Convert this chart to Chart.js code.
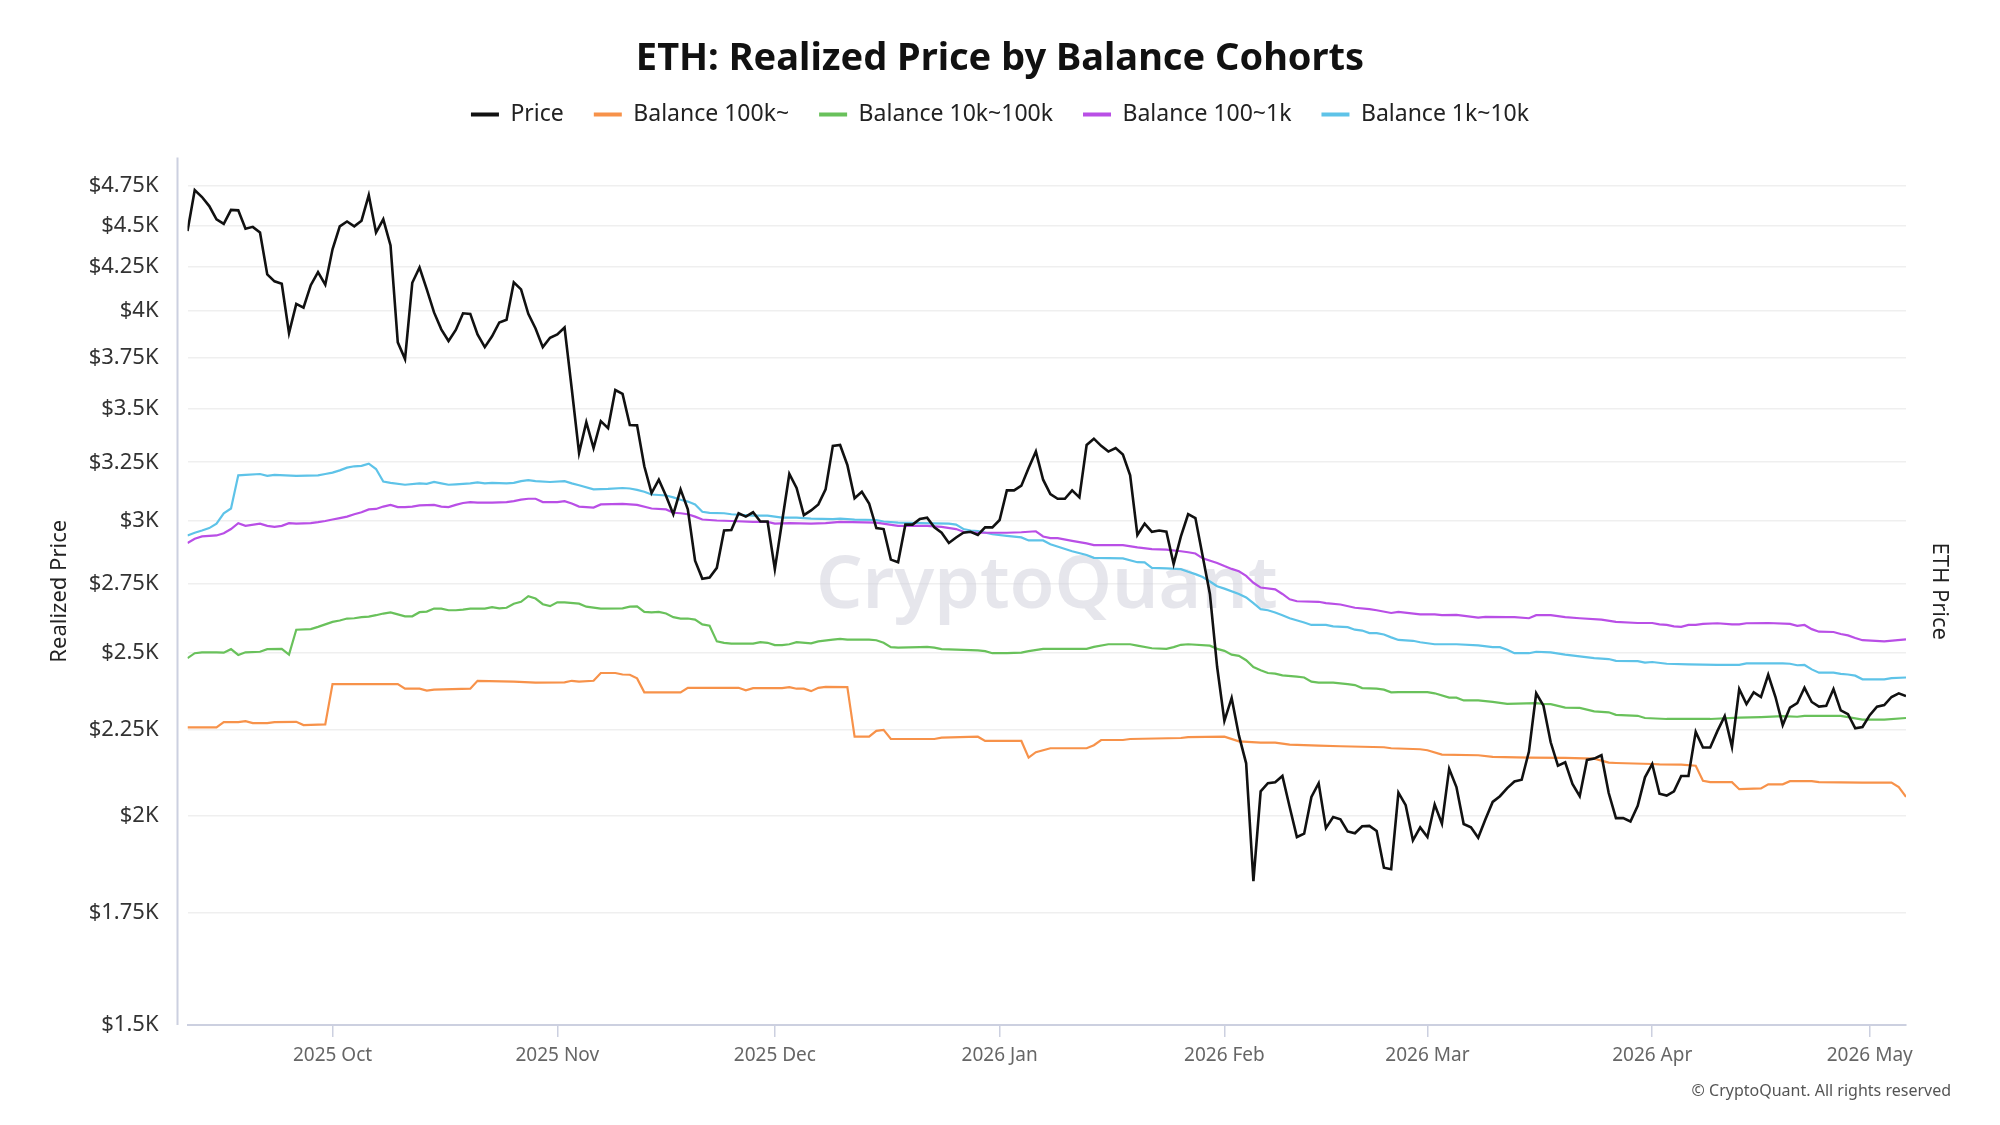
<!DOCTYPE html>
<html>
<head>
<meta charset="utf-8">
<script src="https://cdn.jsdelivr.net/npm/chart.js@4.4.1/dist/chart.umd.min.js"></script>
<style>
html,body{margin:0;padding:0;background:#ffffff;}
canvas{display:block;}
</style>
</head>
<body>
<canvas id="chart" width="2000" height="1125"></canvas>
<script>
// Daily data, day 0 = 2025-09-11, last day 237 = 2026-05-06
const priceVals = [
 4465,4724,4679,4621,4538,4509,4597,4594,4480,4491,
 4456,4207,4167,4153,3881,4040,4019,4145,4220,4148,
 4355,4494,4524,4494,4529,4691,4456,4538,4378,3832,
 3745,4159,4247,4121,3993,3901,3839,3898,3988,3985,
 3874,3807,3864,3938,3953,4161,4121,3985,3906,3807,
 3856,3874,3911,3593,3292,3434,3314,3439,3406,3589,
 3570,3421,3419,3232,3115,3173,3103,3026,3131,3046,
 2839,2769,2774,2811,2959,2961,3030,3016,3034,2996,
 2996,2806,2996,3198,3137,3022,3042,3067,3131,3324,
 3328,3238,3093,3121,3071,2969,2965,2843,2833,2983,
 2983,3006,3012,2972,2950,2909,2931,2950,2954,2941,
 2972,2972,3002,3127,3127,3147,3224,3298,3173,3111,
 3091,3091,3127,3097,3328,3357,3324,3298,3314,3285,
 3192,2941,2987,2954,2959,2954,2826,2935,3026,3010,
 2857,2712,2453,2278,2351,2233,2149,1828,2068,2091,
 2094,2112,2024,1942,1951,2052,2091,1966,1996,1990,
 1957,1952,1971,1972,1958,1862,1858,2064,2029,1933,
 1968,1942,2031,1978,2133,2080,1977,1968,1940,1990,
 2038,2054,2077,2096,2101,2184,2366,2326,2212,2142,
 2152,2089,2054,2159,2163,2173,2063,1993,1993,1984,
 2027,2108,2147,2061,2056,2068,2112,2112,2244,2196,
 2196,2247,2293,2198,2380,2331,2369,2354,2427,2354,
 2265,2320,2334,2384,2338,2323,2326,2380,2311,2299,
 2255,2259,2296,2323,2328,2354,2366,2357
];

// [day, realized price]
const bal100k = [
 [0,2258],[4,2258],[5,2274],[7,2274],[8,2277],[9,2271],[11,2271],[12,2274],[15,2275],[16,2265],
 [19,2267],[20,2396],[29,2396],[30,2381],[32,2381],[33,2375],[34,2378],[39,2381],[40,2407],[45,2404],
 [48,2401],[52,2402],[53,2407],[54,2404],[56,2407],[57,2433],[59,2433],[60,2428],[61,2427],[62,2415],
 [63,2369],[68,2369],[69,2384],[76,2384],[77,2376],[78,2383],[82,2383],[83,2386],[84,2381],[85,2381],
 [86,2373],[87,2384],[88,2387],[91,2386],[92,2229],[94,2229],[95,2247],[96,2250],[97,2222],[103,2222],
 [104,2226],[109,2229],[110,2216],[115,2216],[116,2166],[117,2182],[119,2194],[124,2194],[125,2203],[126,2219],
 [129,2219],[130,2222],[137,2225],[138,2228],[143,2229],[145,2215],[148,2211],[150,2211],[152,2205],[156,2202],
 [159,2200],[165,2197],[166,2194],[170,2191],[171,2188],[173,2175],[178,2173],[180,2168],[185,2166],[190,2165],
 [194,2163],[195,2157],[196,2151],[197,2150],[202,2147],[203,2146],[206,2145],[208,2142],[209,2098],[210,2094],
 [213,2094],[214,2074],[217,2076],[218,2088],[220,2088],[221,2097],[224,2097],[225,2094],[231,2093],[235,2093],
 [236,2080],[237,2052]
];

const bal10k100k = [
 [0,2483],[1,2500],[2,2503],[4,2503],[5,2502],[6,2514],[7,2494],[8,2503],[10,2505],[11,2514],
 [13,2515],[14,2495],[15,2582],[17,2584],[18,2592],[19,2601],[20,2610],[21,2615],[22,2622],[23,2623],
 [24,2627],[25,2629],[26,2634],[27,2640],[28,2644],[29,2637],[30,2630],[31,2630],[32,2645],[33,2647],
 [34,2658],[35,2658],[36,2652],[37,2652],[38,2654],[39,2658],[41,2658],[42,2663],[43,2659],[44,2661],
 [45,2676],[46,2683],[47,2704],[48,2695],[49,2674],[50,2667],[51,2681],[52,2681],[54,2676],[55,2665],
 [57,2658],[60,2659],[61,2665],[62,2666],[63,2646],[64,2644],[65,2646],[66,2640],[67,2627],[68,2622],
 [69,2622],[70,2618],[71,2601],[72,2596],[73,2541],[74,2536],[75,2533],[78,2533],[79,2538],[80,2536],
 [81,2528],[82,2528],[83,2531],[84,2538],[86,2534],[87,2541],[89,2547],[90,2550],[91,2547],[94,2547],
 [95,2545],[96,2536],[97,2521],[98,2519],[101,2521],[102,2522],[103,2519],[104,2514],[106,2512],[109,2510],
 [110,2507],[111,2500],[113,2500],[115,2502],[116,2507],[118,2515],[124,2515],[125,2522],[127,2531],[130,2531],
 [131,2526],[133,2517],[135,2515],[136,2521],[137,2529],[138,2531],[141,2526],[142,2515],[143,2508],[144,2495],
 [145,2491],[146,2476],[147,2453],[148,2442],[149,2433],[150,2431],[151,2425],[153,2421],[154,2418],[155,2404],
 [156,2401],[158,2401],[160,2396],[161,2393],[162,2383],[164,2381],[165,2378],[166,2369],[167,2370],[171,2370],
 [172,2366],[174,2352],[175,2352],[176,2343],[178,2343],[180,2338],[182,2332],[186,2334],[187,2332],[188,2331],
 [190,2320],[192,2319],[194,2308],[196,2305],[197,2297],[200,2294],[201,2287],[204,2284],[210,2284],[214,2288],
 [217,2290],[220,2293],[222,2291],[223,2294],[228,2294],[229,2290],[231,2282],[234,2282],[237,2287]
];

const bal100to1k = [
 [0,2909],[1,2926],[2,2935],[4,2939],[5,2948],[6,2965],[7,2989],[8,2978],[10,2987],[11,2978],
 [12,2974],[13,2978],[14,2989],[15,2987],[17,2989],[18,2993],[19,2998],[20,3004],[21,3010],[22,3016],
 [23,3026],[24,3034],[25,3046],[26,3048],[27,3058],[28,3065],[29,3056],[30,3056],[31,3058],[32,3063],
 [34,3065],[35,3058],[36,3056],[37,3065],[38,3073],[39,3077],[40,3075],[42,3075],[44,3077],[45,3081],
 [46,3087],[47,3091],[48,3091],[49,3077],[51,3077],[52,3081],[53,3071],[54,3058],[56,3054],[57,3067],
 [60,3069],[62,3065],[64,3050],[66,3046],[67,3032],[68,3030],[69,3026],[70,3016],[71,3004],[73,3000],
 [75,2998],[78,2994],[80,2994],[81,2987],[83,2989],[86,2987],[88,2989],[90,2994],[95,2991],[98,2978],
 [102,2978],[104,2974],[106,2965],[107,2954],[109,2950],[113,2950],[115,2952],[117,2956],[118,2935],[119,2928],
 [120,2928],[122,2917],[124,2907],[125,2900],[129,2900],[131,2891],[133,2884],[135,2882],[137,2876],[138,2872],
 [139,2867],[140,2848],[142,2830],[143,2818],[144,2807],[145,2798],[146,2780],[147,2754],[148,2736],[150,2729],
 [151,2712],[152,2692],[153,2685],[156,2683],[157,2678],[159,2673],[161,2661],[163,2656],[164,2652],[166,2642],
 [167,2646],[170,2637],[172,2637],[173,2634],[175,2635],[178,2625],[179,2628],[182,2627],[183,2627],[185,2623],
 [186,2634],[188,2634],[190,2627],[192,2623],[195,2618],[197,2610],[200,2606],[202,2606],[203,2601],[204,2599],
 [205,2594],[206,2592],[207,2599],[208,2599],[209,2603],[211,2605],[213,2601],[214,2601],[215,2605],[218,2606],
 [221,2603],[222,2596],[223,2599],[224,2584],[225,2575],[227,2574],[228,2567],[229,2562],[230,2553],[231,2545],
 [234,2541],[237,2548]
];

const bal1kto10k = [
 [0,2939],[1,2950],[2,2959],[3,2969],[4,2987],[5,3030],[6,3050],[7,3192],[8,3194],[10,3198],
 [11,3190],[12,3194],[15,3190],[18,3192],[19,3198],[20,3204],[21,3214],[22,3226],[23,3232],[24,3234],
 [25,3244],[26,3220],[27,3165],[28,3159],[30,3151],[32,3157],[33,3155],[34,3163],[35,3157],[36,3151],
 [37,3153],[39,3157],[40,3161],[41,3157],[42,3159],[44,3157],[45,3159],[46,3167],[47,3171],[48,3167],
 [50,3163],[52,3167],[53,3157],[54,3149],[56,3131],[58,3133],[60,3137],[61,3135],[62,3129],[63,3121],
 [64,3109],[66,3105],[67,3097],[68,3087],[69,3079],[70,3067],[71,3036],[72,3032],[74,3030],[75,3026],
 [78,3020],[80,3020],[82,3012],[84,3012],[86,3008],[89,3006],[90,3008],[92,3004],[95,3002],[96,2996],
 [98,2991],[101,2989],[105,2987],[106,2983],[107,2965],[108,2959],[109,2957],[111,2944],[113,2937],[115,2931],
 [116,2919],[118,2919],[119,2904],[122,2876],[124,2861],[125,2850],[129,2848],[131,2833],[132,2832],[133,2811],
 [135,2809],[137,2806],[138,2796],[139,2787],[140,2776],[141,2759],[142,2741],[143,2732],[145,2712],[146,2699],
 [147,2678],[148,2656],[149,2652],[150,2644],[151,2634],[152,2623],[154,2608],[155,2599],[157,2599],[158,2594],
 [160,2591],[161,2582],[162,2579],[163,2570],[164,2570],[165,2565],[166,2555],[167,2546],[169,2543],[170,2538],
 [172,2531],[175,2531],[178,2527],[180,2521],[181,2521],[182,2512],[183,2500],[185,2500],[186,2505],[188,2503],
 [190,2495],[194,2483],[196,2480],[197,2474],[200,2473],[201,2468],[202,2470],[204,2464],[207,2462],[211,2460],
 [214,2460],[215,2465],[217,2465],[220,2465],[221,2464],[222,2459],[223,2460],[224,2445],[225,2434],[227,2434],
 [228,2430],[229,2428],[230,2424],[231,2412],[234,2412],[235,2416],[237,2418]
];

const seriesNames = ['Price','Balance 100k~','Balance 10k~100k','Balance 100~1k','Balance 1k~10k'];
const monthTickDays = [20,51,81,112,143,171,202,232];
const monthTickLabels = ['2025 Oct','2025 Nov','2025 Dec','2026 Jan','2026 Feb','2026 Mar','2026 Apr','2026 May'];
const yTickVals = [1500,1750,2000,2250,2500,2750,3000,3250,3500,3750,4000,4250,4500,4750];
const lastDay = 237;
const yMin = 1500, yMax = 4940;

// ---------- styling ----------
const FONT = '"Noto Sans", "Open Sans", sans-serif';
const COLORS = ['#111111','#F7924A','#69C15B','#B94FE6','#5EC3E8'];
const AXIS_LINE = '#ccd0e0';

const toPts = arr => arr.map(p => ({x: p[0], y: p[1]}));
const seriesData = [
  priceVals.map((v, i) => ({x: i, y: v})),
  toPts(bal100k), toPts(bal10k100k), toPts(bal100to1k), toPts(bal1kto10k)
];

const datasets = seriesNames.map((name, k) => ({
  label: name,
  data: seriesData[k],
  borderColor: COLORS[k],
  backgroundColor: COLORS[k],
  borderWidth: k === 0 ? 2.6 : 2.2,
  pointRadius: 0,
  pointHoverRadius: 0,
  tension: 0,
  fill: false,
  yAxisID: 'y'
}));

const legendSpacer = {
  id: 'legendSpacer',
  beforeLayout(chart) {
    const lg = chart.legend;
    if (lg && !lg.__spaced) {
      const orig = lg.fit;
      lg.fit = function () { orig.call(this); this.height += 21.5; };
      lg.__spaced = true;
    }
  }
};

const decor = {
  id: 'decor',
  beforeDatasetsDraw(chart) {
    const {ctx, chartArea: a} = chart;
    ctx.save();
    ctx.font = '600 73px ' + FONT;
    ctx.fillStyle = 'rgba(205,205,218,0.5)';
    ctx.textAlign = 'center';
    ctx.textBaseline = 'alphabetic';
    ctx.fillText('CryptoQuant', (a.left + a.right) / 2, (a.top + a.bottom) / 2 + 17);
    ctx.restore();
  },
  afterDraw(chart) {
    const {ctx, chartArea: a} = chart;
    ctx.save();
    ctx.strokeStyle = AXIS_LINE;
    ctx.lineWidth = 2;
    ctx.beginPath();
    ctx.moveTo(a.left - 10, a.top);
    ctx.lineTo(a.left - 10, a.bottom);
    ctx.stroke();
    ctx.font = '16px ' + FONT;
    ctx.fillStyle = '#555555';
    ctx.textAlign = 'right';
    ctx.textBaseline = 'middle';
    ctx.fillText('\u00A9 CryptoQuant. All rights reserved', 1951, 1091);
    ctx.restore();
  }
};

new Chart(document.getElementById('chart'), {
  type: 'line',
  data: { datasets },
  plugins: [legendSpacer, decor],
  options: {
    responsive: false,
    animation: false,
    events: [],
    layout: { padding: { left: 40, right: 40, top: 0, bottom: 0 } },
    plugins: {
      title: {
        display: true,
        text: 'ETH: Realized Price by Balance Cohorts',
        color: '#111111',
        font: { family: FONT, size: 38, weight: 'bold', lineHeight: 1.0 },
        padding: { top: 40, bottom: -5 }
      },
      legend: {
        display: true,
        labels: {
          color: '#222222',
          font: { family: FONT, size: 23 },
          boxWidth: 28,
          boxHeight: 4,
          padding: 30,
          generateLabels: (chart) => Chart.defaults.plugins.legend.labels.generateLabels(chart)
            .map(l => Object.assign(l, { lineWidth: 0 }))
        }
      },
      tooltip: { enabled: false }
    },
    scales: {
      x: {
        type: 'linear',
        min: 0,
        max: lastDay,
        afterBuildTicks: s => { s.ticks = monthTickDays.map(v => ({ value: v })); },
        afterFit: s => { s.height = 100; },
        ticks: {
          autoSkip: false,
          maxRotation: 0,
          minRotation: 0,
          padding: 7,
          color: '#666666',
          font: { family: FONT, size: 19 },
          callback: (v) => { const j = monthTickDays.indexOf(v); return j >= 0 ? monthTickLabels[j] : ''; }
        },
        grid: { display: true, drawOnChartArea: false, drawTicks: true, tickLength: 12, color: AXIS_LINE, lineWidth: 1.5 },
        border: { display: true, color: AXIS_LINE, width: 2 }
      },
      y: {
        type: 'logarithmic',
        position: 'left',
        min: yMin,
        max: yMax,
        afterBuildTicks: s => { s.ticks = yTickVals.map(v => ({ value: v })); },
        afterFit: s => { s.width = 147.5; },
        ticks: {
          autoSkip: false,
          padding: 29,
          color: '#333333',
          font: { family: FONT, size: 22 },
          callback: v => '$' + (v / 1000) + 'K'
        },
        grid: { color: '#efefef', lineWidth: 1.5, drawTicks: false },
        border: { display: false },
        title: {
          display: true,
          text: 'Realized Price',
          color: '#222222',
          font: { family: FONT, size: 22 },
          padding: { top: 7, bottom: 0 }
        }
      },
      y2: {
        type: 'logarithmic',
        position: 'right',
        min: yMin,
        max: yMax,
        afterFit: s => { s.width = 54; },
        ticks: { display: false },
        grid: { display: false, drawTicks: false },
        border: { display: false },
        title: {
          display: true,
          text: 'ETH Price',
          color: '#222222',
          font: { family: FONT, size: 22 },
          padding: { top: 8, bottom: 0 }
        }
      }
    }
  }
});
</script>
</body>
</html>
